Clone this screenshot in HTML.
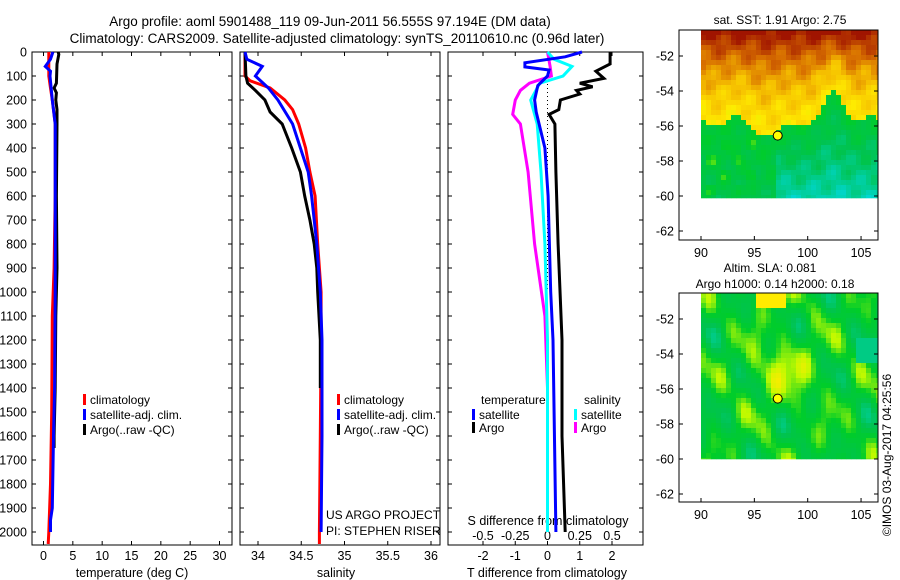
<!DOCTYPE html>
<html><head><meta charset="utf-8">
<style>
body{margin:0;background:#fff;}
svg{display:block;font-family:"Liberation Sans",sans-serif;}
text{fill:#000;}
</style></head>
<body>
<svg id="c" width="900" height="580" viewBox="0 0 900 580">
<text x="330" y="26" font-size="13.5" text-anchor="middle">Argo profile: aoml 5901488_119 09-Jun-2011 56.555S 97.194E (DM data)</text>
<text x="337" y="43" font-size="13.5" text-anchor="middle">Climatology: CARS2009. Satellite-adjusted climatology: synTS_20110610.nc (0.96d later)</text>
</svg>
<script>
// ---------- data ----------
const tClimDepth=[0,100,150,200,300,600,900,1100,1500,1800,2000,2050];
const tClimVal=[0.9,0.9,1.2,1.5,2.0,2.0,1.8,1.5,1.4,1.2,0.9,0.8];
const tSatDepth=[0,30,60,80,100,200,300,500,1000,1400,1600,1900,1950,2000];
const tSatVal=[1.6,1.2,0.3,1.2,1.1,1.5,2.0,2.0,2.0,1.9,1.7,1.5,1.2,1.2];
const tArgoDepth=[0,10,50,130,150,170,200,240,300,600,900,1100,1400,1600,1650];
const tArgoVal=[2.5,2.6,2.3,2.2,1.8,2.2,2.1,2.3,2.3,2.2,2.3,2.1,2.0,1.8,1.8];
const sDepth=[0,100,120,150,200,240,300,400,500,600,800,1000,1200,1600,2000,2050];
const sClim=[33.85,33.85,33.91,34.14,34.31,34.40,34.47,34.55,34.60,34.66,34.69,34.73,34.73,34.72,34.71,34.71];
const sSatDepth=[0,30,60,100,150,200,300,400,500,600,800,1000,1200,1600,2000];
const sSat=[33.85,33.87,34.05,33.97,34.12,34.23,34.40,34.49,34.58,34.62,34.68,34.72,34.74,34.74,34.73];
const sArgoDepth=[0,100,130,160,200,250,300,400,500,600,700,800,900,1000,1200,1400];
const sArgo=[33.85,33.86,33.88,33.97,34.08,34.14,34.28,34.39,34.49,34.54,34.60,34.65,34.68,34.69,34.72,34.72];
const dTSatDepth=[0,20,45,62,75,100,140,200,250,400,600,1000,1200,2000];
const dTSat=[1.07,0.55,-0.7,-0.7,0.05,0.0,-0.3,-0.4,-0.35,-0.08,0.02,0.1,0.17,0.26];
const dTArgoDepth=[0,50,80,110,130,145,160,175,200,240,260,300,500,800,1200,1600,2000];
const dTArgo=[1.94,1.94,1.5,1.75,1.0,1.4,0.9,1.0,0.4,0.35,0.05,0.23,0.26,0.33,0.45,0.45,0.55];
const dSSatDepth=[0,30,60,100,130,200,300,500,800,1200,2000];
const dSSat=[0,0.05,0.19,0.12,-0.06,-0.13,-0.08,-0.05,-0.02,0,0];
const dSArgoDepth=[0,60,100,130,160,200,260,300,500,800,1100,1400];
const dSArgo=[0,0.02,0.03,-0.14,-0.21,-0.25,-0.27,-0.21,-0.15,-0.10,-0.02,0];
const depthTicks=[0,100,200,300,400,500,600,700,800,900,1000,1100,1200,1300,1400,1500,1600,1700,1800,1900,2000];
const tempTicks=[0,5,10,15,20,25,30];
const salTicks=[34,34.5,35,35.5,36];
const salTickLabels=["34","34.5","35","35.5","36"];
const dTTicks=[-2,-1,0,1,2];
const dSTicks=[-0.5,-0.25,0,0.25,0.5];
const latTicks=[-52,-54,-56,-58,-60,-62];
const lonTicks=[90,95,100,105];

const NS="http://www.w3.org/2000/svg";
const svg=document.getElementById('c');
function el(tag,attrs,parent){const e=document.createElementNS(NS,tag);for(const k in attrs)e.setAttribute(k,attrs[k]);(parent||svg).appendChild(e);return e;}
function txt(x,y,s,size,anchor,parent){const t=el('text',{x:x,y:y,'font-size':size||12,'text-anchor':anchor||'middle'},parent);t.textContent=s;return t;}

const yD=d=>52+d*0.24;
const PB=545, PT=52;
const xT=v=>43.5+v*5.867;
const xS=v=>258+(v-34)*86.5;
const xDT=v=>547.5+v*32.25;
const xDS=v=>547.5+v*129;

function frame(x0,x1,name,xt,ticks,labels){
  const g=el('g',{});
  
  
  el('rect',{x:x0,y:PT,width:x1-x0,height:PB-PT,fill:'none',stroke:'#000','stroke-width':1},g);
  depthTicks.forEach(d=>{el('line',{x1:x0,x2:x0+4,y1:yD(d),y2:yD(d),stroke:'#000'},g);el('line',{x1:x1,x2:x1-4,y1:yD(d),y2:yD(d),stroke:'#000'},g);});
  ticks.forEach((v,i)=>{const x=xt(v);el('line',{x1:x,x2:x,y1:PB,y2:PB-4,stroke:'#000'},g);el('line',{x1:x,x2:x,y1:PT,y2:PT+4,stroke:'#000'},g);
    if(labels){const t=txt(x,560,labels[i],12.5,'middle',g);}});
  return g;
}
const f1=frame(32,232,'temperature-panel',xT,tempTicks,tempTicks.map(String));
depthTicks.forEach(d=>{const t=txt(27,yD(d)+4.5,String(d),12.5,'end',f1);});
const f2=frame(240,440,'salinity-panel',xS,salTicks,salTickLabels);
const f3=frame(448,643,'difference-panel',xDT,dTTicks,dTTicks.map(String));
dSTicks.forEach(v=>{const t=txt(xDS(v),540,String(v),12.5,'middle',f3);});
let t;
t=txt(132,577,'temperature (deg C)',12.5);
t=txt(336,577,'salinity',12.5);
t=txt(547,577,'T difference from climatology',12.5);
t=txt(548,525,'S difference from climatology',12.5);

const z=el('line',{x1:xDT(0),x2:xDT(0),y1:yD(100),y2:yD(1000),stroke:'#000','stroke-dasharray':'1,3'});


function series(depths,vals,xf,color,name){
  const pts=depths.map((d,i)=>xf(vals[i]).toFixed(1)+','+yD(d).toFixed(1)).join(' ');
  const p=el('polyline',{points:pts,fill:'none',stroke:color,'stroke-width':3,'stroke-linejoin':'miter'});
  
  
}
series(tClimDepth,tClimVal,xT,'#f00','temp-climatology-line');
series(tArgoDepth,tArgoVal,xT,'#000','temp-argo-line');
series(tSatDepth,tSatVal,xT,'#00f','temp-satellite-line');
series(sDepth,sClim,xS,'#f00','salinity-climatology-line');
series(sArgoDepth,sArgo,xS,'#000','salinity-argo-line');
series(sSatDepth,sSat,xS,'#00f','salinity-satellite-line');
series(dTArgoDepth,dTArgo,xDT,'#000','t-diff-argo-line');
series(dSArgoDepth,dSArgo,xDS,'#f0f','s-diff-argo-line');
series(dSSatDepth,dSSat,xDS,'#0ff','s-diff-satellite-line');
series(dTSatDepth,dTSat,xDT,'#00f','t-diff-satellite-line');

function legend(x,y,color,label,name){
  const g=el('g',{});
  
  
  el('rect',{x:x,y:y-10,width:3,height:11,fill:color},g);
  txt(x+7,y,label,12,'start',g);
}
[[83,'#f00','climatology'],[83,'#00f','satellite-adj. clim.'],[83,'#000','Argo(..raw -QC)']].forEach((r,i)=>legend(r[0],404+i*15,r[1],r[2],'legend-temp-'+i));
[[337,'#f00','climatology'],[337,'#00f','satellite-adj. clim.'],[337,'#000','Argo(..raw -QC)']].forEach((r,i)=>legend(r[0],404+i*15,r[1],r[2],'legend-sal-'+i));
t=txt(481,404,'temperature',12,'start');
t=txt(584,404,'salinity',12,'start');
legend(472,419,'#00f','satellite','legend-t-satellite');
legend(472,432,'#000','Argo','legend-t-argo');
legend(574,419,'#0ff','satellite','legend-s-satellite');
legend(574,432,'#f0f','Argo','legend-s-argo');
t=txt(326,519,'US ARGO PROJECT',12,'start');
t=txt(326,535,'PI: STEPHEN RISER',12,'start');

// ---------- maps ----------
function pal(v){
  const st=[[0,[0,215,210]],[0.2,[0,195,80]],[0.35,[0,205,40]],[0.48,[190,250,0]],[0.6,[255,235,0]],[0.72,[245,190,0]],[0.85,[215,110,0]],[1,[160,20,0]]];
  v=Math.max(0,Math.min(1,v));
  for(let i=1;i<st.length;i++){if(v<=st[i][0]){const a=st[i-1],b=st[i],f=(v-a[0])/(b[0]-a[0]);return 'rgb('+a[1].map((c,j)=>Math.round(c+(b[1][j]-c)*f)).join(',')+')';}}
  return 'rgb(160,20,0)';
}
function map(top,bottom,dataBottom,name,field){
  const g=el('g',{});
  
  
  const L=679,R=878,X0=701;
  const cs=5;
  for(let y=top;y<dataBottom;y+=cs){for(let x=X0;x<R;x+=cs){
    el('rect',{x:x,y:y,width:Math.min(cs,R-x)+0.3,height:Math.min(cs,dataBottom-y)+0.3,fill:pal(field((x-X0)/(R-X0),(y-top)/(dataBottom-top)))},g);}}
  el('rect',{x:L,y:top,width:R-L,height:bottom-top,fill:'none',stroke:'#000'},g);
  const latY=v=>top+26+(-52-v)*17.5;
  latTicks.forEach(v=>{const y=latY(v);el('line',{x1:L,x2:L+4,y1:y,y2:y,stroke:'#000'},g);el('line',{x1:R,x2:R-4,y1:y,y2:y,stroke:'#000'},g);txt(L-5,y+4.5,String(v),12.5,'end',g);});
  const lonX=v=>X0+(v-90)*10.67;
  lonTicks.forEach(v=>{const x=lonX(v);el('line',{x1:x,x2:x,y1:bottom,y2:bottom-4,stroke:'#000'},g);txt(x,bottom+17,String(v),12.5,'middle',g);});
  el('circle',{cx:lonX(97.19),cy:latY(-56.55),r:4.5,fill:'#ff0',stroke:'#000','stroke-width':1},g);
}
map(30,240,198,'sst-map',(u,v)=>{
  const boundary=0.53+0.08*Math.exp(-Math.pow((u-0.4)/0.1,2))-0.18*Math.exp(-Math.pow((u-0.75)/0.07,2))+0.03*Math.sin(u*25);
  let b= v<boundary ? 0.62+0.38*Math.pow(1-v/boundary,1.5) : 0.3-0.25*(v-boundary)/(1-boundary)*(u>0.4?1:0.3);
  b+=0.06*Math.sin(u*37+v*11)*Math.cos(v*29-u*7);
  if(v>0.6&&u<0.3) b+=0.12*Math.max(0,Math.sin(u*40)*Math.sin(v*35));
  return b;
});
map(293,502,459,'sla-map',(u,v)=>{
  let b=0.31+0.1*Math.sin(u*14+1)*Math.sin(v*12+2)+0.07*Math.cos(u*23-v*17)+0.04*Math.sin(u*41+v*7);
  b+=0.16*Math.exp(-(Math.pow(u-0.45,2)+Math.pow(v-0.45,2))*30);
  if(v<0.08&&u>0.3&&u<0.46) b=0.6;
  if(u>0.85&&v>0.25&&v<0.4) b=0.12;
  return b;
});
t=txt(780,24,'sat. SST: 1.91 Argo: 2.75',12);
t=txt(770,272,'Altim. SLA: 0.081',12);
t=txt(775,288,'Argo h1000: 0.14 h2000: 0.18',12);
t=el('text',{x:0,y:0,'font-size':12,'text-anchor':'middle',transform:'translate(891,455) rotate(-90)'});
t.textContent='©IMOS 03-Aug-2017 04:25:56';

</script>
</body></html>
